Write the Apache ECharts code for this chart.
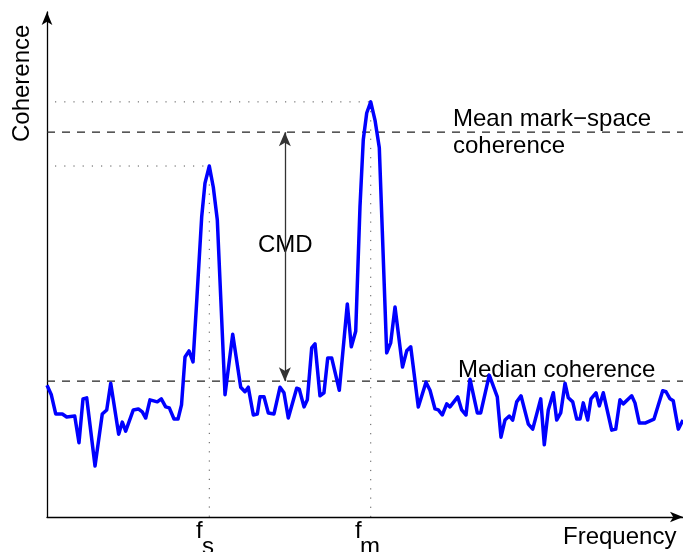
<!DOCTYPE html>
<html>
<head>
<meta charset="utf-8">
<script src="https://cdn.jsdelivr.net/npm/echarts@6/dist/echarts.min.js"></script>
<style>
  html, body { margin: 0; padding: 0; background: #fff; }
  #chart { width: 683px; height: 552px; }
</style>
</head>
<body>
<div id="chart"></div>
<script>
// Coherence spectrum (frequency in % of the plotted band, coherence 0..1)
const freq = [
  0, 0.68, 1.37, 2.41, 3.10, 4.36, 5.03, 5.66, 6.24, 7.55,
  8.69, 9.39, 10.02, 11.27, 11.84, 12.37, 13.57, 14.36, 14.98, 15.52,
  16.19, 17.34, 17.97, 18.66, 19.23, 19.97, 20.60, 21.15, 21.70, 22.33,
  22.96, 23.58, 24.32, 24.84, 25.52, 26.15, 26.78, 27.99, 29.20, 30.46,
  31.13, 31.65, 32.44, 33.07, 33.49, 34.12, 34.80, 35.69, 36.64, 37.26,
  37.94, 39.26, 39.67, 40.41, 40.93, 41.62, 42.14, 42.92, 43.55, 44.14,
  44.76, 45.96, 47.22, 47.85, 48.54, 49.21, 49.73, 50.27, 50.90, 51.57,
  52.25, 53.41, 54.04, 54.72, 55.90, 56.56, 57.19, 58.38, 59.59, 60.22,
  61.01, 61.53, 62.15, 62.85, 63.36, 64.58, 65.20, 65.88, 66.51, 67.66,
  68.19, 69.54, 70.80, 71.38, 72.01, 72.69, 73.22, 73.85, 74.53, 75.68,
  76.37, 77.63, 78.19, 78.82, 79.61, 80.14, 80.77, 81.45, 81.97, 82.66,
  83.29, 83.81, 84.32, 85.02, 85.53, 86.32, 86.84, 87.47, 88.79, 89.42,
  90.09, 90.61, 91.93, 92.45, 93.13, 94.03, 95.44, 96.81, 97.33, 97.96,
  98.47, 99.26, 100
];
const coherence = [
  0.261, 0.242, 0.204, 0.204, 0.198, 0.200, 0.147, 0.234, 0.236, 0.101,
  0.204, 0.212, 0.265, 0.164, 0.188, 0.170, 0.212, 0.214, 0.208, 0.196,
  0.232, 0.228, 0.234, 0.218, 0.216, 0.194, 0.194, 0.222, 0.317, 0.329,
  0.307, 0.436, 0.594, 0.661, 0.695, 0.653, 0.588, 0.242, 0.362, 0.257,
  0.248, 0.257, 0.202, 0.204, 0.238, 0.238, 0.206, 0.204, 0.257, 0.246,
  0.196, 0.255, 0.253, 0.218, 0.232, 0.335, 0.343, 0.240, 0.246, 0.315,
  0.315, 0.251, 0.422, 0.337, 0.368, 0.614, 0.747, 0.800, 0.822, 0.786,
  0.731, 0.325, 0.345, 0.416, 0.297, 0.329, 0.337, 0.218, 0.267, 0.251,
  0.214, 0.212, 0.202, 0.224, 0.218, 0.238, 0.212, 0.202, 0.273, 0.206,
  0.206, 0.281, 0.238, 0.158, 0.192, 0.200, 0.192, 0.228, 0.240, 0.184,
  0.174, 0.234, 0.143, 0.212, 0.246, 0.192, 0.206, 0.265, 0.236, 0.228,
  0.194, 0.194, 0.226, 0.192, 0.234, 0.246, 0.220, 0.246, 0.172, 0.174,
  0.232, 0.224, 0.240, 0.226, 0.186, 0.186, 0.194, 0.250, 0.248, 0.234,
  0.230, 0.174, 0.192
];

// Reference levels
const medianCoherence = 0.269;
const meanMarkSpaceCoherence = 0.762;
const cmdFreq = 37.4;          // where the CMD arrow is drawn
const guideStart = 1.26;       // left end of the dotted peak guides

// Peaks: stimulation frequency (first peak) and mark frequency (global max)
function peakIn(lo, hi) {
  let best = -1;
  for (let i = 0; i < freq.length; i++) {
    if (freq[i] >= lo && freq[i] <= hi && (best < 0 || coherence[i] > coherence[best])) best = i;
  }
  return [freq[best], coherence[best]];
}
const [fsFreq, fsPeak] = peakIn(0, 40);
const [fmFreq, fmPeak] = peakIn(40, 100);

const spectrum = freq.map((f, i) => [f, coherence[i]]);

const FONT = '"Liberation Sans", Arial, Helvetica, sans-serif';
const FS = '24px ' + FONT;
const chart = echarts.init(document.getElementById('chart'), null, { renderer: 'canvas' });

const axisCommon = {
  type: 'value',
  axisTick: { show: false },
  axisLabel: { show: false },
  splitLine: { show: false },
  axisLine: {
    show: true,
    onZero: false,
    symbol: ['none', 'arrow'],
    symbolSize: [8, 13],
    lineStyle: { color: '#000', width: 1.3 }
  }
};

const dotted = { color: '#555', width: 1, type: [1.2, 8] };
const dashed = { color: '#222', width: 1.2, type: [8, 7] };

function refLine(name, pts, style, z) {
  return {
    name, type: 'line', data: pts, showSymbol: false, silent: true,
    lineStyle: style, z: z || 2, animation: false
  };
}

chart.setOption({
  animation: false,
  grid: { left: 47, right: 0, top: 12, bottom: 35, containLabel: false },
  xAxis: Object.assign({}, axisCommon, { min: 0, max: 100 }),
  yAxis: Object.assign({}, axisCommon, { min: 0, max: 1 }),
  series: [
    refLine('median', [[0, medianCoherence], [100, medianCoherence]], dashed),
    refLine('mean', [[0, meanMarkSpaceCoherence], [100, meanMarkSpaceCoherence]], dashed),
    refLine('fsH', [[guideStart, fsPeak], [fsFreq, fsPeak]], dotted),
    refLine('fsV', [[fsFreq, fsPeak], [fsFreq, 0]], dotted),
    refLine('fmH', [[guideStart, fmPeak], [fmFreq, fmPeak]], dotted),
    refLine('fmV', [[fmFreq, fmPeak], [fmFreq, 0]], dotted),
    {
      name: 'cmd', type: 'line', data: [], silent: true,
      markLine: {
        silent: true,
        symbol: ['arrow', 'arrow'],
        symbolSize: [9, 14],
        label: { show: false },
        lineStyle: { color: '#333', width: 1.3, type: 'solid' },
        data: [[{ coord: [cmdFreq, meanMarkSpaceCoherence] }, { coord: [cmdFreq, medianCoherence] }]],
        animation: false
      }
    },
    {
      name: 'Coherence', type: 'line', data: spectrum, showSymbol: false,
      lineStyle: { color: '#0000ff', width: 3.5, join: 'round' }, z: 5
    }
  ],
  graphic: [
    { type: 'text', left: 453, top: 107, style: { text: 'Mean mark\u2212space', font: FS, fill: '#000' } },
    { type: 'text', left: 453, top: 134, style: { text: 'coherence', font: FS, fill: '#000' } },
    { type: 'text', left: 458, top: 358, style: { text: 'Median coherence', font: FS, fill: '#000' } },
    { type: 'text', left: 258, top: 233, style: { text: 'CMD', font: FS, fill: '#000' } },
    { type: 'text', left: 563, top: 525, style: { text: 'Frequency', font: FS, fill: '#000' } },
    { type: 'text', left: 196, top: 519, style: { text: 'f', font: FS, fill: '#000' } },
    { type: 'text', left: 202, top: 535, style: { text: 's', font: FS, fill: '#000' } },
    { type: 'text', left: 355, top: 519, style: { text: 'f', font: FS, fill: '#000' } },
    { type: 'text', left: 360, top: 535, style: { text: 'm', font: FS, fill: '#000' } },
    {
      type: 'text', rotation: Math.PI / 2, x: 10, y: 142,
      style: { text: 'Coherence', font: FS, fill: '#000' }
    }
  ]
});
</script>
</body>
</html>
